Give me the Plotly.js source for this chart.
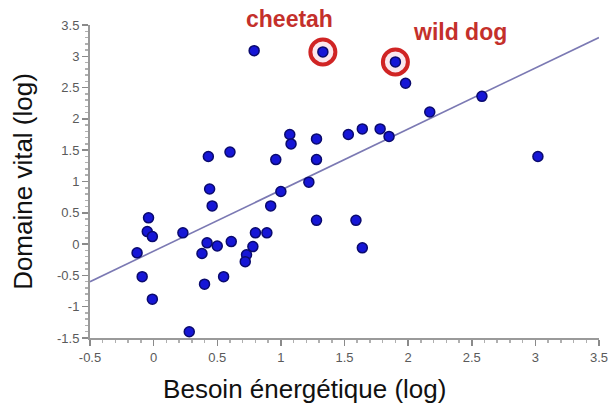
<!DOCTYPE html>
<html>
<head>
<meta charset="utf-8">
<script src="https://cdn.plot.ly/plotly-3.0.1.min.js"></script>
<style>html,body{margin:0;padding:0;background:#fff;}#chart{width:610px;height:405px;}</style>
</head>
<body>
<div id="chart"></div>
<script>
// Data
const energyNeed = [0.79, 1.98, 2.58, 2.17, 3.02, 1.64, 1.78, 1.85, 1.53, 1.28, 1.28, 1.07, 1.08, 0.96, 0.60, 0.43, 0.44, 0.46, 1.22, 1.00, 0.92, 1.28, 1.59, 1.64, 0.89, 0.80, 0.78, 0.73, 0.72, 0.61, 0.50, 0.42, 0.38, 0.55, 0.40, 0.28, 0.23, -0.04, -0.05, -0.01, -0.13, -0.09, -0.01];
const homeRange  = [3.09, 2.57, 2.36, 2.11, 1.40, 1.84, 1.84, 1.72, 1.75, 1.68, 1.35, 1.75, 1.60, 1.35, 1.47, 1.40, 0.88, 0.61, 0.99, 0.84, 0.61, 0.38, 0.38, -0.06, 0.18, 0.18, -0.04, -0.17, -0.28, 0.04, -0.03, 0.02, -0.15, -0.52, -0.64, -1.40, 0.18, 0.42, 0.20, 0.12, -0.14, -0.52, -0.88];
const highlightNames = ["cheetah", "wild dog"];
const highlightX = [1.33, 1.90];
const highlightY = [3.07, 2.91];
const fitX = [-0.5, 3.5];
const fitY = [-0.60, 3.30];
const xTickVals = [-0.5, 0, 0.5, 1, 1.5, 2, 2.5, 3, 3.5];
const xTickText = ["-0.5", "0", "0.5", "1", "1.5", "2", "2.5", "3", "3.5"];
const yTickVals = [-1.5, -1, -0.5, 0, 0.5, 1, 1.5, 2, 2.5, 3, 3.5];
const yTickText = ["-1.5", "-1", "-0.5", "0", "0.5", "1", "1.5", "2", "2.5", "3", "3.5"];
const xTitle = "Besoin énergétique (log)";
const yTitle = "Domaine vital (log)";

const dotStyle = {color: '#1616d6', size: 10, line: {color: '#0a0a6e', width: 1.5}};

const traces = [
  {x: fitX, y: fitY, mode: 'lines', line: {color: '#7b79b3', width: 1.6}, hoverinfo: 'skip', showlegend: false},
  {x: highlightX, y: highlightY, mode: 'markers', marker: {symbol: 'circle', size: 25, color: '#fbe8ee', line: {color: '#d02424', width: 4}}, showlegend: false, cliponaxis: false},
  {x: energyNeed.concat(highlightX), y: homeRange.concat(highlightY), mode: 'markers', marker: dotStyle, showlegend: false, cliponaxis: false}
];

// label anchors: x in data units, y in paper units (above the plot top)
const labelPos = [[1.07, 1.019], [2.41, 0.978]];
const annotations = highlightNames.map((t, i) => ({
  x: labelPos[i][0], y: labelPos[i][1], xref: 'x', yref: 'paper', text: t, showarrow: false,
  xanchor: 'center', yanchor: 'middle',
  font: {family: 'Liberation Sans, Arial, sans-serif', size: 23, color: '#c4302b', weight: 'bold'}
}));

const axisCommon = {
  showgrid: false, zeroline: false, showline: true, linecolor: '#9a9a9a', linewidth: 2,
  ticks: 'outside', ticklen: 6, tickwidth: 1.5, tickcolor: '#8a8a8a',
  tickfont: {family: 'Liberation Sans, Arial, sans-serif', size: 13, color: '#5a5a5a'},
  tickmode: 'array',
  minor: {ticks: 'outside', ticklen: 3, tickcolor: '#b0b0b0', dtick: 0.1, showgrid: false}
};

// trailing blank padding shifts the centred title left, as in the reference
const pad = '\u00a0'.repeat(11) + '\u200b';

const layout = {
  width: 610, height: 405,
  margin: {l: 90, r: 11, t: 25, b: 67},
  paper_bgcolor: '#ffffff', plot_bgcolor: '#ffffff',
  font: {family: 'Liberation Sans, Arial, sans-serif'},
  xaxis: Object.assign({}, axisCommon, {
    range: [-0.5, 3.5], tickvals: xTickVals, ticktext: xTickText,
    title: {text: xTitle + pad, font: {size: 26, color: '#111'}, standoff: 16}
  }),
  yaxis: Object.assign({}, axisCommon, {
    range: [-1.5, 3.5], tickvals: yTickVals, ticktext: yTickText,
    title: {text: yTitle, font: {size: 26, color: '#111'}, standoff: 17}
  }),
  annotations: annotations
};

Plotly.newPlot('chart', traces, layout, {displayModeBar: false, staticPlot: true});
</script>
</body>
</html>
